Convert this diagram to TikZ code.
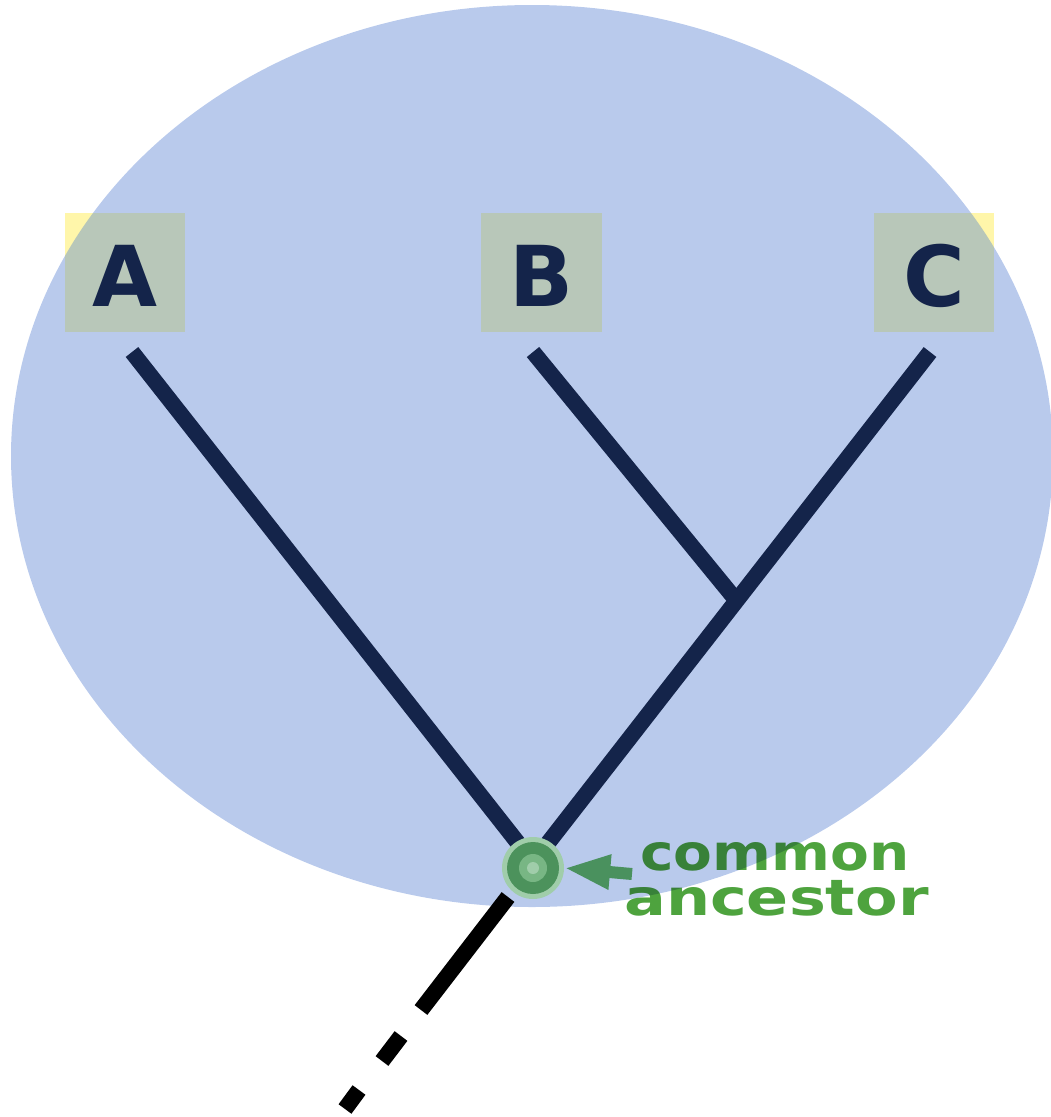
\documentclass[tikz,border=0pt]{standalone}
\usepackage{fontspec}
\setmainfont{DejaVu Sans}
\usetikzlibrary{arrows.meta}
\definecolor{ellblue}{RGB}{185,202,236}
\definecolor{tipyellow}{RGB}{255,246,170}
\definecolor{tipunder}{RGB}{254,252,200}
\definecolor{navy}{RGB}{20,36,74}
\definecolor{ancgreen}{RGB}{78,163,62}
\definecolor{ringdark}{RGB}{76,146,92}
\definecolor{ringmid}{RGB}{120,182,132}
\definecolor{ringhalo}{RGB}{160,205,170}
\definecolor{arrgreen}{RGB}{74,145,94}
\tikzset{
  tipbox/.style={minimum width=120pt, minimum height=119pt, inner sep=0pt},
  tiplabel/.style={text=navy, font=\fontsize{84}{84}\selectfont\bfseries},
  branch/.style={draw=navy, line width=16pt},
  stem/.style={draw=black, line width=16pt},
  anclabel/.style={align=left, inner sep=0pt, text=ancgreen, font=\fontsize{50}{45}\selectfont\bfseries},
}
\begin{document}
\begin{tikzpicture}[x=1pt,y=-1pt]
\useasboundingbox (0,0) rectangle (1051,1117);
% yellow tip boxes (under the ellipse)
\node[tipbox, fill=tipyellow] (A) at (125,272.5) {};
\node[tipbox, fill=tipyellow] (B) at (541.5,272.5) {};
\node[tipbox, fill=tipyellow] (C) at (934,272.5) {};
\begin{scope}
  \clip (532,456) ellipse [x radius=521, y radius=451];
  \fill[tipunder] (A.south west) rectangle (A.north east);
  \fill[tipunder] (B.south west) rectangle (B.north east);
  \fill[tipunder] (C.south west) rectangle (C.north east);
\end{scope}
% label text (tinted by the ellipse above it)
\node[anclabel, anchor=base west] (label) at (624,915)
  {\hspace*{16pt}\scalebox{1.13}[1]{common}\\\scalebox{1.24}[1]{ancestor}};
% clade ellipse, multiplied over what lies beneath
\begin{scope}[blend mode=multiply]
  \fill[ellblue] (532,456) ellipse [x radius=521, y radius=451];
\end{scope}
% tip labels
\node[tiplabel] (Alab) at (125,276) {A};
\node[tiplabel] (Blab) at (541.5,276) {B};
\node[tiplabel] (Clab) at (934,276) {C};
% branch coordinates
\coordinate (Aend) at (132,352);
\coordinate (Bend) at (533,352);
\coordinate (Cend) at (930,352);
\coordinate (junc) at (736,600);
\coordinate (Afoot) at (518,843);
\coordinate (Cfoot) at (548,843);
% branches
\draw[branch] (Aend) -- (Afoot);
\draw[branch] (Bend) -- (junc);
\draw[branch] (Cend) -- (Cfoot);
% ancestor node
\node[circle, fill=ringhalo, minimum size=62pt, inner sep=0pt] (anc) at (533,868) {};
\fill[ringdark] (anc.center) circle (26);
\fill[ringmid] (anc.center) circle (14);
\fill[ringhalo] (anc.center) circle (6);
% stem (dashed downward)
\coordinate (s1) at (508,897);
\coordinate (s2) at (421,1010);
\coordinate (s3) at (401,1036);
\coordinate (s4) at (382,1061);
\coordinate (s5) at (359,1090);
\coordinate (s6) at (345,1109);
\draw[stem] (s1) -- (s2);
\draw[stem] (s3) -- (s4);
\draw[stem] (s5) -- (s6);
% arrow to ancestor
\coordinate (arrstart) at (632,874);
\draw[arrgreen, line width=12pt, -{Triangle[width=32pt,length=46pt]}] (arrstart) -- (anc.east);
\end{tikzpicture}
\end{document}
